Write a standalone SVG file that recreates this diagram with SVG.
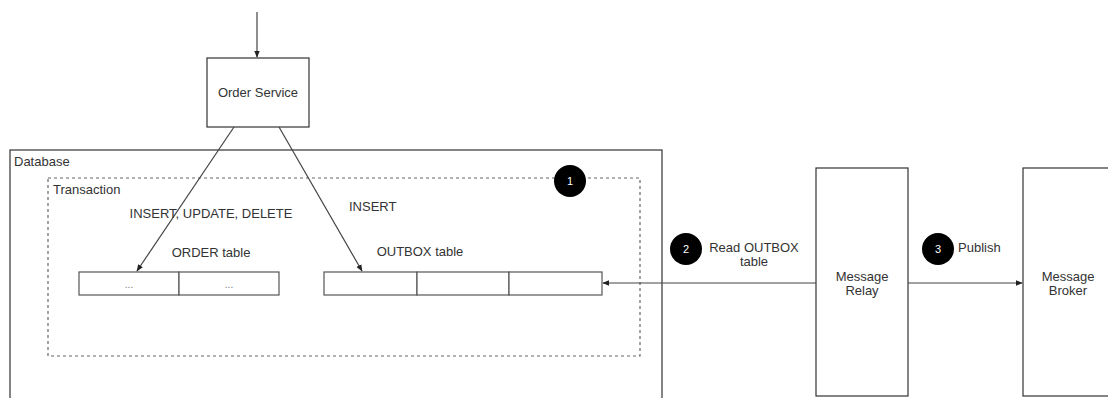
<svg xmlns="http://www.w3.org/2000/svg" width="1108" height="398" viewBox="0 0 1108 398">
  <style>
    text { font-family: "Liberation Sans", Arial, Helvetica, sans-serif; font-size: 13px; fill: #333; }
    .box { fill: #fff; stroke: #333; stroke-width: 1.2; }
    .frame { fill: none; stroke: #333; stroke-width: 1.2; }
    .dash { fill: none; stroke: #666; stroke-width: 1.2; stroke-dasharray: 3 3; }
    .cell { fill: #fff; stroke: #555; stroke-width: 1.2; }
    .edge { fill: none; stroke: #444; stroke-width: 1.2; }
    .badge { fill: #000; }
    .badge-text { fill: #fff; font-size: 11px; }
    .dots { fill: #777; font-size: 10px; }
    .mid { text-anchor: middle; }
  </style>
  <defs>
    <marker id="arrow" viewBox="0 0 10 10" refX="9" refY="5" markerWidth="7" markerHeight="7" orient="auto-start-reverse" markerUnits="userSpaceOnUse">
      <path d="M0,1 L10,5 L0,9 Z" fill="#222"/>
    </marker>
  </defs>

  <g id="database">
    <rect class="frame" x="10" y="150" width="652" height="260"/>
    <text x="14" y="166">Database</text>
  </g>

  <g id="transaction">
    <rect class="dash" x="48" y="178" width="592" height="178"/>
    <text x="53" y="194">Transaction</text>
  </g>

  <g id="order-service">
    <rect class="box" x="207" y="58" width="102" height="69"/>
    <text class="mid" x="258" y="97">Order Service</text>
  </g>

  <g id="order-table">
    <text class="mid" x="211" y="257">ORDER table</text>
    <rect class="cell" x="79" y="272" width="100" height="23"/>
    <rect class="cell" x="179" y="272" width="100" height="23"/>
    <text class="dots mid" x="129" y="288">...</text>
    <text class="dots mid" x="229" y="288">...</text>
  </g>

  <g id="outbox-table">
    <text class="mid" x="420" y="256">OUTBOX table</text>
    <rect class="cell" x="324" y="272" width="93" height="23"/>
    <rect class="cell" x="417" y="272" width="92" height="23"/>
    <rect class="cell" x="509" y="272" width="93" height="23"/>
  </g>

  <g id="message-relay">
    <rect class="box" x="816" y="168" width="92" height="228"/>
    <text class="mid" x="862" y="281">Message</text>
    <text class="mid" x="862" y="295">Relay</text>
  </g>

  <g id="message-broker">
    <rect class="box" x="1023" y="168" width="100" height="228"/>
    <text class="mid" x="1068" y="281">Message</text>
    <text class="mid" x="1068" y="295">Broker</text>
  </g>

  <g id="connectors">
    <line class="edge" x1="257" y1="12" x2="257" y2="57" marker-end="url(#arrow)"/>
    <line class="edge" x1="234" y1="127" x2="137" y2="271" marker-end="url(#arrow)"/>
    <line class="edge" x1="279" y1="127" x2="362" y2="271" marker-end="url(#arrow)"/>
    <line class="edge" x1="816" y1="283" x2="603" y2="283" marker-end="url(#arrow)"/>
    <line class="edge" x1="908" y1="283" x2="1022" y2="283" marker-end="url(#arrow)"/>
    <text x="211" y="218" class="mid">INSERT, UPDATE, DELETE</text>
    <text x="349" y="211">INSERT</text>
    <text x="754" y="252" class="mid">Read OUTBOX</text>
    <text x="754" y="266" class="mid">table</text>
    <text x="958" y="252">Publish</text>
  </g>

  <g id="step-1">
    <circle class="badge" cx="570" cy="181" r="16"/>
    <text class="badge-text mid" x="570" y="185">1</text>
  </g>
  <g id="step-2">
    <circle class="badge" cx="686" cy="249" r="16"/>
    <text class="badge-text mid" x="686" y="253">2</text>
  </g>
  <g id="step-3">
    <circle class="badge" cx="938" cy="249" r="16"/>
    <text class="badge-text mid" x="938" y="253">3</text>
  </g>
</svg>
